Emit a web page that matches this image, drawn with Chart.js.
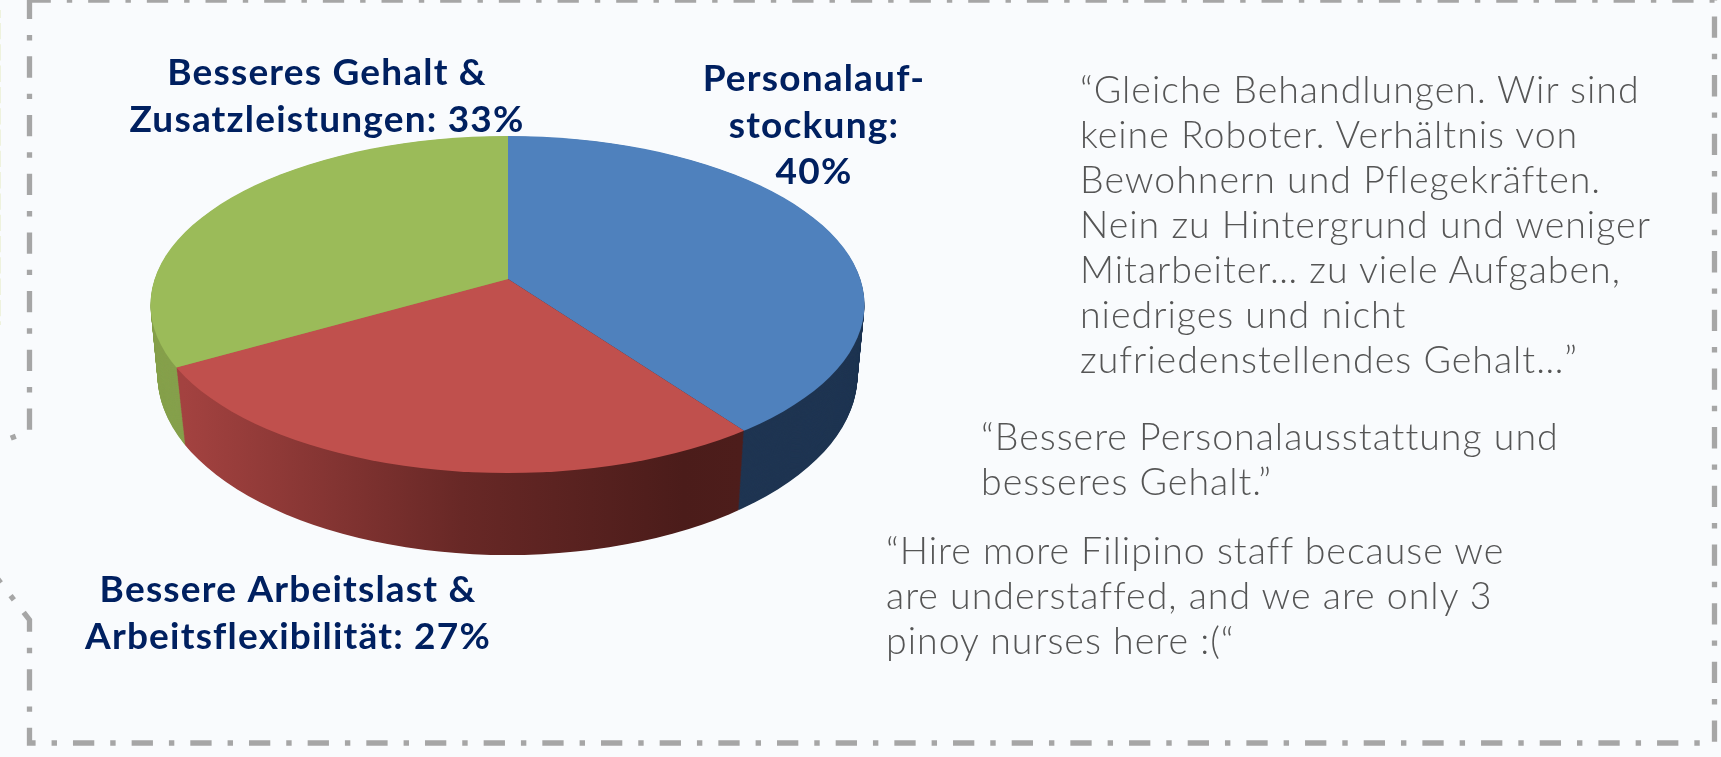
<!DOCTYPE html>
<html lang="de">
<head>
<meta charset="utf-8">
<title>Personal</title>
<script src="https://cdn.jsdelivr.net/npm/chart.js@4"></script>
<style>
  html, body { margin: 0; padding: 0; background: #f9fbfd; overflow: hidden; }
  #wrap { position: relative; width: 1721px; height: 757px; }
  canvas { position: absolute; left: 0; top: 0; }
  .quote {
    position: absolute;
    font-family: Lato, sans-serif;
    font-weight: 300;
    font-size: 37.5px;
    line-height: 45px;
    color: #555555;
    white-space: pre;
    letter-spacing: 1px;
  }
</style>
</head>
<body>
<div id="wrap">
  <canvas id="grafico" width="1721" height="757"></canvas>
  <div class="quote" id="quote1" style="left:1080px;top:66px"></div>
  <div class="quote" id="quote2" style="left:981px;top:413px"></div>
  <div class="quote" id="quote3" style="left:886px;top:527px"></div>
</div>
<script>
// Data
const categories = ['Personalaufstockung', 'Bessere Arbeitslast & Arbeitsflexibilität', 'Besseres Gehalt & Zusatzleistungen'];
const values = [40, 27, 33];
const labelLines = [
    ['Personalauf-', 'stockung:'],
    ['Bessere Arbeitslast &', 'Arbeitsflexibilität:'],
    ['Besseres Gehalt &', 'Zusatzleistungen:']
];
const faceColors = ['#4f81bd', '#c0504d', '#9bbb59'];
const wallColors = ['#1f3552', '#a34240', '#86a04c'];
const quote1 = ['“Gleiche Behandlungen. Wir sind', 'keine Roboter. Verhältnis von', 'Bewohnern und Pflegekräften.', 'Nein zu Hintergrund und weniger', 'Mitarbeiter… zu viele Aufgaben,', 'niedriges und nicht', 'zufriedenstellendes Gehalt…”'];
const quote2 = ['“Bessere Personalausstattung und', 'besseres Gehalt.”'];
const quote3 = ['“Hire more Filipino staff because we', 'are understaffed, and we are only 3', 'pinoy nurses here :(“'];

document.getElementById('quote1').textContent = quote1.join('\n');
document.getElementById('quote2').textContent = quote2.join('\n');
document.getElementById('quote3').textContent = quote3.join('\n');

// Top and bottom rim of the tilted pie (perspective: the apex is not the rim centre)
const topRim = { apexY: 279, cy: 304.5, rx: 357, ry: 168.5, tilt: 0.472, skew: 0.007 };
const bottomRim = { apexY: 362, cy: 375, rx: 350, ry: 180, tilt: 0.466, skew: 0 };
const apexX = 508;
const rimCx = 507.5;
const zoomPie = 1.25;

function mix(a, b, t) {
    return a + (b - a) * t;
}

function rimAt(t) {
    return {
        apexY: mix(topRim.apexY, bottomRim.apexY, t),
        cy: mix(topRim.cy, bottomRim.cy, t),
        rx: mix(topRim.rx, bottomRim.rx, t),
        ry: mix(topRim.ry, bottomRim.ry, t),
        tilt: mix(topRim.tilt, bottomRim.tilt, t),
        skew: mix(topRim.skew, bottomRim.skew, t)
    };
}

// Draws the library's arc elements squashed into one rim ellipse
function drawLayer(ctx, arcs, rim, fills) {
    ctx.save();
    ctx.beginPath();
    ctx.ellipse(rimCx, rim.cy, rim.rx, rim.ry, 0, 0, Math.PI * 2);
    ctx.clip();
    ctx.translate(apexX, rim.apexY);
    ctx.transform(zoomPie, -rim.skew * zoomPie, 0, zoomPie * rim.tilt, 0, 0);
    ctx.translate(-arcs[0].x, -arcs[0].y);
    arcs.forEach((arc, i) => {
        const saved = arc.options;
        arc.options = Object.create(saved, { backgroundColor: { value: fills[i] } });
        arc.draw(ctx);
        arc.options = saved;
    });
    ctx.restore();
}

const pie3d = {
    id: 'pie3d',
    beforeDatasetsDraw(chart) {
        const ctx = chart.ctx;
        const arcs = chart.getDatasetMeta(0).data;
        // red wall shades from left to right
        const localX = (x) => arcs[0].x + (x - apexX) / zoomPie;
        const redWall = ctx.createLinearGradient(localX(184), 0, localX(739), 0);
        redWall.addColorStop(0, wallColors[1]);
        redWall.addColorStop(0.5, '#682826');
        redWall.addColorStop(0.9, '#4b1c1a');
        redWall.addColorStop(1, '#4d1d1b');
        const wallFills = [wallColors[0], redWall, wallColors[2]];
        for (let step = 100; step > 0; step--) {
            drawLayer(ctx, arcs, rimAt(step / 100), wallFills);
        }
        drawLayer(ctx, arcs, rimAt(0), faceColors);
        return false;
    }
};

const frameAndLabels = {
    id: 'frameAndLabels',
    afterDraw(chart) {
        const ctx = chart.ctx;
        // dash-dot frame, the notch on the left runs off the page
        ctx.save();
        ctx.strokeStyle = '#a6a6a6';
        ctx.lineWidth = 5.3;
        ctx.setLineDash([21.3, 16, 5.4, 15.97]);
        ctx.beginPath();
        ctx.moveTo(29.5, 0);
        ctx.lineTo(1714.5, 0);
        ctx.lineTo(1714.5, 743);
        ctx.lineTo(29.5, 743);
        ctx.lineTo(29.5, 620);
        ctx.lineTo(-20, 556);
        ctx.stroke();
        ctx.lineDashOffset = 2.3;
        ctx.beginPath();
        ctx.moveTo(29.5, 0);
        ctx.lineTo(29.5, 431);
        ctx.lineTo(-10, 446);
        ctx.stroke();

        // faint dashes of the neighbouring box at the page edge
        ctx.strokeStyle = '#eef2dd';
        ctx.lineWidth = 2;
        ctx.setLineDash([16.3, 5]);
        ctx.lineDashOffset = 8.3;
        ctx.beginPath();
        ctx.moveTo(0, 10);
        ctx.lineTo(0, 325);
        ctx.stroke();
        ctx.restore();

        // slice labels
        ctx.save();
        ctx.fillStyle = '#002060';
        ctx.font = '700 37px Lato, sans-serif';
        ctx.letterSpacing = '1.2px';
        ctx.textAlign = 'center';
        const spots = [[814, 91], [288, 602], [327, 85]];
        labelLines.forEach((lines, i) => {
            const rows = lines.slice();
            if (i === 0) {
                rows.push(values[i] + '%');
            } else {
                rows[rows.length - 1] += ' ' + values[i] + '%';
            }
            rows.forEach((row, r) => {
                ctx.fillText(row, spots[i][0], spots[i][1] + r * 46.7);
            });
        });
        ctx.restore();
    }
};

new Chart(document.getElementById('grafico').getContext('2d'), {
    type: 'pie',
    data: {
        labels: categories,
        datasets: [{
            data: values,
            backgroundColor: faceColors,
            borderWidth: 0
        }]
    },
    options: {
        responsive: false,
        animation: false,
        plugins: {
            legend: { display: false },
            tooltip: { enabled: false }
        }
    },
    plugins: [pie3d, frameAndLabels]
});
</script>
</body>
</html>
